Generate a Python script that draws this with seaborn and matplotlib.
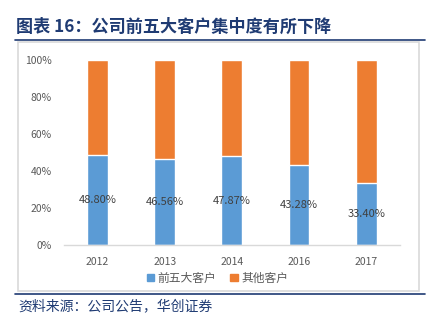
import matplotlib
matplotlib.use("Agg")
import matplotlib.pyplot as plt
import seaborn as sns
import pandas as pd
from matplotlib.patches import Rectangle, Patch
from matplotlib.lines import Line2D

years = ["2012", "2013", "2014", "2016", "2017"]
top5 = [48.80, 46.56, 47.87, 43.28, 33.40]
others = [100 - v for v in top5]
series_names = ["前五大客户", "其他客户"]
yticks = [0, 20, 40, 60, 80, 100]

sns.set_theme(style="white")
plt.rcParams['font.family'] = ['Noto Sans CJK SC', 'DejaVu Sans']

BLUE = "#5B9BD5"
ORANGE = "#ED7D31"
NAVY = "#1F3B73"

df = pd.DataFrame({"year": years, "top5": top5, "total": [t + o for t, o in zip(top5, others)]})

fig = plt.figure(figsize=(4.35, 3.27), dpi=100)
ax = fig.add_axes([0.147, 0.2508, 0.772, 0.567])

sns.barplot(data=df, x="year", y="total", color=ORANGE, width=0.31, ax=ax, saturation=1)
sns.barplot(data=df, x="year", y="top5", color=BLUE, width=0.31, ax=ax, saturation=1)

for i, v in enumerate(top5):
    ax.text(i, v / 2, f"{v:.2f}%", ha="center", va="center", fontsize=8, color="#404040")

ax.set_ylim(0, 100)
ax.set_xlim(-0.5, 4.5)
ax.set_yticks(yticks)
ax.set_yticklabels([f"{t}%" for t in yticks])
ax.set_xlabel("")
ax.set_ylabel("")
ax.tick_params(axis="both", labelsize=7.5, colors="#595959", length=0)
ax.tick_params(axis="y", pad=9)
ax.tick_params(axis="x", pad=9)
for s in ["top", "right", "left"]:
    ax.spines[s].set_visible(False)
ax.spines["bottom"].set_color("#D9D9D9")
ax.spines["bottom"].set_linewidth(1)

handles = [Patch(color=BLUE), Patch(color=ORANGE)]
fig.legend(handles, series_names, loc="center", bbox_to_anchor=(0.5, 1 - 278 / 327), ncol=2,
           frameon=False, fontsize=8.5, handlelength=0.6, handleheight=0.6, handletextpad=0.3,
           columnspacing=1.2, labelcolor="#595959")

# chart frame
fig.patches.append(Rectangle((18 / 435, 1 - 291 / 327), (419 - 18) / 435, (291 - 42) / 327,
                             transform=fig.transFigure, fill=False, edgecolor="#D9D9D9", linewidth=1.2))
# title and rules
fig.text(16 / 435, 1 - 27 / 327, "图表 16：公司前五大客户集中度有所下降", fontsize=12.3, fontweight="bold",
         color=NAVY, ha="left", va="center")
fig.lines.append(Line2D([15 / 435, 425 / 435], [1 - 40 / 327] * 2, transform=fig.transFigure, color=NAVY, linewidth=1.2))
fig.lines.append(Line2D([15 / 435, 425 / 435], [1 - 293.5 / 327] * 2, transform=fig.transFigure, color=NAVY, linewidth=1.2))
fig.text(18 / 435, 1 - 306 / 327, "资料来源：公司公告，华创证券", fontsize=10, style="italic",
         color=NAVY, ha="left", va="center")

fig.savefig("out.png", dpi=100)
